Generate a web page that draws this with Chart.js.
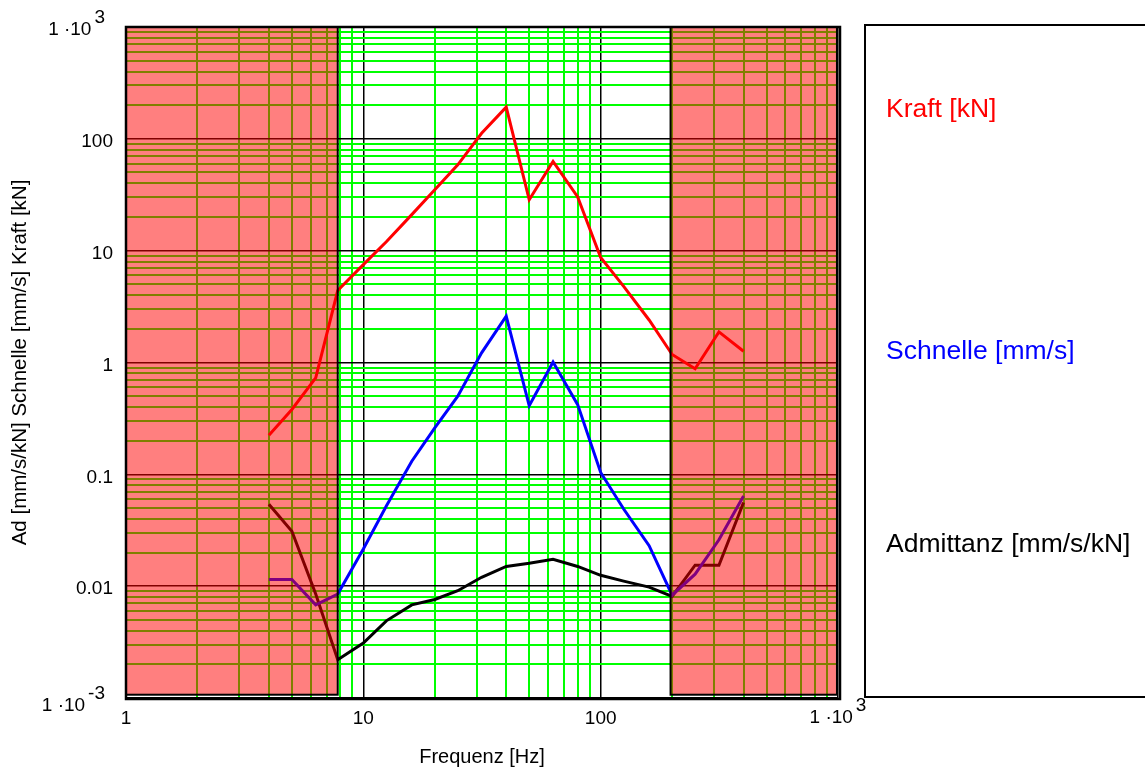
<!DOCTYPE html>
<html lang="de">
<head>
  <meta charset="UTF-8" />
  <title>Kraft, Schnelle, Admittanz</title>
  <script src="https://cdn.jsdelivr.net/npm/chart.js@4"></script>
  <style>
    html, body { margin: 0; padding: 0; background: #fff; }
    canvas { display: block; }
  </style>
</head>
<body>
  <canvas id="chart" width="1145" height="769"></canvas>

  <script>
    const freq = [4, 5, 6.3, 7.8, 10, 12.5, 16, 20, 25, 31.5, 40, 50, 63, 80, 100, 125, 160, 200, 250, 315, 400];
    const kraft = [0.224, 0.38, 0.73, 4.4, 7.5, 12, 21, 35, 58.6, 112, 192, 28.5, 62.7, 30.2, 8.7, 4.8, 2.4, 1.18, 0.88, 1.88, 1.26];
    const schnelle = [0.0115, 0.0115, 0.0068, 0.0085, 0.0215, 0.052, 0.131, 0.26, 0.5, 1.22, 2.6, 0.41, 1.01, 0.42, 0.104, 0.049, 0.023, 0.0083, 0.0128, 0.026, 0.064];
    const admittanz = [0.054, 0.031, 0.0085, 0.0022, 0.0031, 0.0049, 0.0068, 0.0076, 0.0091, 0.012, 0.015, 0.016, 0.0174, 0.015, 0.0125, 0.0111, 0.0098, 0.0081, 0.0154, 0.0154, 0.056];

    const seriesNames = ['Kraft [kN]', 'Schnelle [mm/s]', 'Admittanz [mm/s/kN]'];
    const seriesColors = ['#ff0000', '#0000ff', '#000000'];

    // decade labels, '^' marks a raised exponent
    const xTicks = ['1', '10', '100', '1 \u00b710^3'];
    const yTicks = ['1 \u00b710^-3', '0.01', '0.1', '1', '10', '100', '1 \u00b710^3'];

    // shaded frequency bands (Hz) and their vertical extent
    const bandsHz = [[1, 7.8], [197, 990]];
    const bandLevels = [0.00107, 1000];

    const FONT = '"Liberation Sans", Arial, Helvetica, sans-serif';
    const TICK_SIZE = 19;

    function gridValues(minExp, maxExp) {
      const out = [];
      for (let e = minExp; e < maxExp; e++) {
        for (let s = 1; s < 10; s++) out.push(parseFloat((s * Math.pow(10, e)).toPrecision(3)));
      }
      out.push(Math.pow(10, maxExp));
      return out;
    }
    const isDecade = v => Math.abs(Math.log10(v) - Math.round(Math.log10(v))) < 1e-9;
    const decadeLabel = (list, exp0) => v => {
      if (!isDecade(v)) return '';
      const t = list[Math.round(Math.log10(v)) - exp0];
      return t && t.indexOf('^') < 0 ? t : '';
    };

    const gridStyle = {
      drawTicks: false,
      color: c => isDecade(c.tick.value) ? '#000000' : '#00ff00',
      lineWidth: c => isDecade(c.tick.value) ? 1.5 : 2
    };

    const bandsPlugin = {
      id: 'bands',
      afterDatasetsDraw(chart) {
        const { ctx, chartArea: a, scales: { x, y } } = chart;
        ctx.save();
        const y1 = y.getPixelForValue(bandLevels[1]);
        const y2 = y.getPixelForValue(bandLevels[0]);
        bandsHz.forEach(([lo, hi]) => {
          const x1 = x.getPixelForValue(lo);
          const x2 = x.getPixelForValue(hi);
          ctx.fillStyle = 'rgba(255,0,0,0.5)';
          ctx.fillRect(x1, y1, x2 - x1, y2 - y1);
          ctx.strokeStyle = '#000';
          ctx.lineWidth = 2;
          ctx.strokeRect(x1, y1, x2 - x1, y2 - y1);
        });
        ctx.strokeStyle = '#000';
        ctx.lineWidth = 2.5;
        ctx.strokeRect(a.left, a.top, a.right - a.left + 2, a.bottom - a.top + 1);
        ctx.restore();
      }
    };

    // labels like 1·10^3 drawn with a raised exponent
    function drawPow(ctx, text, x, y, align) {
      const [base, exp] = text.split('^');
      ctx.font = TICK_SIZE + 'px ' + FONT;
      const wb = ctx.measureText(base).width;
      const we = ctx.measureText(exp).width;
      const gap = 3;
      const total = wb + gap + we;
      const x0 = align === 'right' ? x - total : x - total / 2;
      ctx.textAlign = 'left';
      ctx.textBaseline = 'middle';
      ctx.fillStyle = '#000';
      ctx.fillText(base, x0, y);
      ctx.fillText(exp, x0 + wb + gap, y - 12);
    }

    const powLabels = {
      id: 'powLabels',
      afterDraw(chart) {
        const { ctx, chartArea: a, scales: { x, y } } = chart;
        ctx.save();
        xTicks.forEach((t, i) => {
          if (t.indexOf('^') < 0) return;
          drawPow(ctx, t, x.getPixelForValue(Math.pow(10, i)), a.bottom + 20, 'center');
        });
        yTicks.forEach((t, i) => {
          if (t.indexOf('^') < 0) return;
          const v = Math.pow(10, i - 3);
          drawPow(ctx, t, a.left - 21, y.getPixelForValue(v) + (v < 1 ? 8 : 3), 'right');
        });
        ctx.restore();
      }
    };

    const legendBox = {
      id: 'legendBox',
      afterDraw(chart) {
        const ctx = chart.ctx;
        const rows = [110, 352, 545];
        ctx.save();
        ctx.strokeStyle = '#000';
        ctx.lineWidth = 2;
        ctx.strokeRect(865, 25, 300, 672);
        ctx.font = '26.5px ' + FONT;
        ctx.textAlign = 'left';
        ctx.textBaseline = 'middle';
        chart.data.datasets.forEach((ds, i) => {
          ctx.fillStyle = ds.borderColor;
          ctx.fillText(ds.label, 886, rows[i]);
        });
        ctx.restore();
      }
    };

    const series = [kraft, schnelle, admittanz];

    new Chart(document.getElementById('chart'), {
      type: 'line',
      data: {
        datasets: series.map((vals, i) => ({
          label: seriesNames[i],
          data: freq.map((f, j) => ({ x: f, y: vals[j] })),
          borderColor: seriesColors[i],
          borderWidth: 3,
          pointRadius: 0,
          tension: 0,
          fill: false
        }))
      },
      options: {
        responsive: false,
        animation: false,
        events: [],
        layout: { padding: { top: 27, right: 307, left: 0, bottom: 0 } },
        plugins: { legend: { display: false }, tooltip: { enabled: false } },
        scales: {
          x: {
            type: 'logarithmic',
            min: 1,
            max: 1000,
            afterBuildTicks: s => { s.ticks = gridValues(0, 3).map(v => ({ value: v })); },
            afterFit: s => { s.height = 71; },
            ticks: {
              autoSkip: false,
              maxRotation: 0,
              padding: 9,
              color: '#000',
              font: { family: FONT, size: TICK_SIZE },
              callback: decadeLabel(xTicks, 0)
            },
            grid: gridStyle,
            border: { display: false },
            title: {
              display: true,
              text: 'Frequenz [Hz]',
              color: '#000',
              font: { family: FONT, size: 20 },
              padding: { top: 0, bottom: 0 }
            }
          },
          y: {
            type: 'logarithmic',
            min: 0.001,
            max: 1000,
            afterBuildTicks: s => { s.ticks = gridValues(-3, 3).map(v => ({ value: v })); },
            afterFit: s => { s.width = 126; },
            ticks: {
              autoSkip: false,
              padding: 13,
              labelOffset: 3,
              color: '#000',
              font: { family: FONT, size: TICK_SIZE },
              callback: decadeLabel(yTicks, -3)
            },
            grid: gridStyle,
            border: { display: false },
            title: {
              display: true,
              text: 'Ad [mm/s/kN] Schnelle [mm/s] Kraft [kN]',
              color: '#000',
              font: { family: FONT, size: 20.5 },
              padding: { top: 8, bottom: 0 }
            }
          }
        }
      },
      plugins: [bandsPlugin, powLabels, legendBox]
    });
  </script>
</body>
</html>
